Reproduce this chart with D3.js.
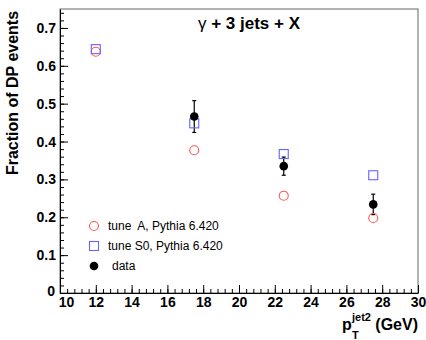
<!DOCTYPE html>
<html lang="en">
<head>
  <meta charset="UTF-8">
  <title>Fraction of DP events</title>
  <style>
    body { margin: 0; background: #fff; }
    svg { display: block; font-family: "Liberation Sans", Arial, sans-serif; }
    .legend text { font-size: 12px; white-space: pre; }
  </style>
</head>
<body>
  <div id="chart"></div>
  <script src="https://d3js.org/d3.v7.min.js"></script>
  <script>
    // jet2 pT bin centres (GeV)
    const ptMc = [12, 17.5, 22.5, 27.5];
    const tuneA = [0.637, 0.377, 0.257, 0.198];
    const tuneS0 = [0.644, 0.448, 0.367, 0.311];
    const ptData = [17.5, 22.5, 27.5];
    const dataVals = [0.466, 0.335, 0.234];
    const dataErr = [0.042, 0.024, 0.027];

    const xMajor = d3.range(10, 30.01, 2);
    const yMajor = [0, 0.1, 0.2, 0.3, 0.4, 0.5, 0.6, 0.7];
    const legendLabels = ['tune  A, Pythia 6.420', 'tune S0, Pythia 6.420', 'data'];

    const width = 426;
    const height = 340;
    const margin = { top: 9, right: 8, bottom: 47, left: 60 };

    const svg = d3.select('#chart')
      .append('svg')
      .attr('width', width)
      .attr('height', height);

    const x = d3.scaleLinear()
      .domain([10, 30])
      .range([margin.left, width - margin.right]);

    const y = d3.scaleLinear()
      .domain([0, 0.75])
      .range([height - margin.bottom, margin.top]);

    // frame (top and right sides)
    svg.append('rect')
      .attr('x', x(10))
      .attr('y', y(0.75))
      .attr('width', x(30) - x(10))
      .attr('height', y(0) - y(0.75))
      .attr('fill', 'none')
      .attr('stroke', '#666')
      .attr('stroke-width', 1);

    // minor ticks
    svg.append('g')
      .attr('transform', `translate(0, ${y(0)})`)
      .call(d3.axisBottom(x).tickValues(d3.range(10, 30.01, 0.4)).tickSize(-4).tickFormat(''))
      .call(g => g.select('.domain').remove());

    svg.append('g')
      .attr('transform', `translate(${x(10)}, 0)`)
      .call(d3.axisLeft(y).tickValues(d3.range(0, 0.7501, 0.02)).tickSize(-4).tickFormat(''))
      .call(g => g.select('.domain').remove());

    // major ticks + labels
    svg.append('g')
      .attr('transform', `translate(0, ${y(0)})`)
      .call(d3.axisBottom(x).tickValues(xMajor).tickSize(-8).tickSizeOuter(0).tickPadding(4).tickFormat(d3.format('d')))
      .call(g => g.selectAll('.tick text').filter(d => d === 10).attr('dx', 6));

    svg.append('g')
      .attr('transform', `translate(${x(10)}, 0)`)
      .call(d3.axisLeft(y).tickValues(yMajor).tickSize(-8).tickSizeOuter(0).tickPadding(4).tickFormat(d => d === 0 ? '0' : d3.format('.1f')(d)))
      .call(g => g.selectAll('.tick text').filter(d => d === 0).attr('dx', -1).attr('dy', '0.2em'));

    svg.selectAll('.domain').attr('stroke', '#000');
    svg.selectAll('.tick line').attr('stroke', '#000');
    svg.selectAll('.tick text')
      .attr('font-family', '"Liberation Sans", Arial, sans-serif')
      .attr('font-size', 14)
      .attr('font-weight', 'bold')
      .attr('fill', '#000');

    // data error bars
    const errG = svg.append('g').attr('stroke', '#000').attr('stroke-width', 1.2);
    ptData.forEach((p, i) => {
      errG.append('line')
        .attr('x1', x(p)).attr('x2', x(p))
        .attr('y1', y(dataVals[i] - dataErr[i])).attr('y2', y(dataVals[i] + dataErr[i]));
      [-1, 1].forEach(s => {
        errG.append('line')
          .attr('x1', x(p) - 2).attr('x2', x(p) + 2)
          .attr('y1', y(dataVals[i] + s * dataErr[i])).attr('y2', y(dataVals[i] + s * dataErr[i]));
      });
    });

    // tune A: open red circles
    svg.append('g').selectAll('circle')
      .data(ptMc)
      .join('circle')
      .attr('cx', d => x(d))
      .attr('cy', (d, i) => y(tuneA[i]))
      .attr('r', 4.5)
      .attr('fill', 'none')
      .attr('stroke', '#ff5555')
      .attr('stroke-width', 1.1);

    // tune S0: open blue squares
    svg.append('g').selectAll('rect')
      .data(ptMc)
      .join('rect')
      .attr('x', d => x(d) - 4.5)
      .attr('y', (d, i) => y(tuneS0[i]) - 4.5)
      .attr('width', 9)
      .attr('height', 9)
      .attr('fill', 'none')
      .attr('stroke', '#6464ff')
      .attr('stroke-width', 1.1);

    // data points
    svg.append('g').selectAll('circle')
      .data(ptData)
      .join('circle')
      .attr('cx', d => x(d))
      .attr('cy', (d, i) => y(dataVals[i]))
      .attr('r', 4.3)
      .attr('fill', '#000');

    // legend
    const legend = svg.append('g').attr('class', 'legend');
    const ly = [226, 246, 266];
    legend.append('circle').attr('cx', 94).attr('cy', ly[0]).attr('r', 4.5)
      .attr('fill', 'none').attr('stroke', '#ff5555').attr('stroke-width', 1.1);
    legend.append('rect').attr('x', 89.5).attr('y', ly[1] - 4.5).attr('width', 9).attr('height', 9)
      .attr('fill', 'none').attr('stroke', '#6464ff').attr('stroke-width', 1.1);
    legend.append('circle').attr('cx', 94).attr('cy', ly[2]).attr('r', 4.3).attr('fill', '#000');
    legendLabels.forEach((t, i) => {
      legend.append('text')
        .attr('x', i === 2 ? 112 : 108)
        .attr('y', ly[i])
        .attr('dy', '0.35em')
        .text(t);
    });

    // title
    const title = svg.append('text')
      .attr('x', 249)
      .attr('y', 29)
      .attr('text-anchor', 'middle')
      .style('font-size', '17px')
      .style('font-weight', 'bold');
    title.append('tspan').style('font-weight', 'normal').text('γ');
    title.append('tspan').text(' + 3 jets + X');

    // y axis title
    svg.append('text')
      .attr('transform', 'rotate(-90)')
      .attr('x', -93)
      .attr('y', 18)
      .attr('text-anchor', 'middle')
      .style('font-size', '16px')
      .style('font-weight', 'bold')
      .text('Fraction of DP events');

    // x axis title: p_T^jet2 (GeV)
    const xt = svg.append('g')
      .style('font-weight', 'bold');
    xt.append('text').attr('x', 342).attr('y', 330).style('font-size', '16px').text('p');
    xt.append('text').attr('x', 352).attr('y', 321).style('font-size', '11px').text('jet2');
    xt.append('text').attr('x', 352).attr('y', 339).style('font-size', '11px').text('T');
    xt.append('text').attr('x', 418).attr('y', 330).attr('text-anchor', 'end').style('font-size', '16px').text('(GeV)');
  </script>
</body>
</html>
